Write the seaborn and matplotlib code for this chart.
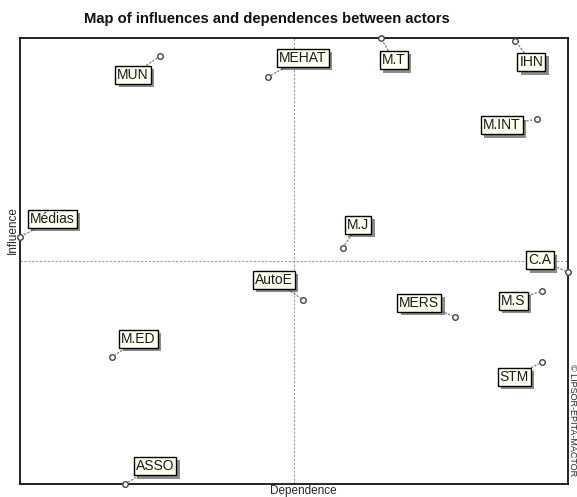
import pandas as pd
import seaborn as sns
import matplotlib.pyplot as plt
import matplotlib.patheffects as pe

# actors and their position on the map (dependence = x, influence = y, 0-100 scale)
actors = ['MUN', 'MEHAT', 'M.T', 'IHN', 'M.INT', 'Médias', 'M.J', 'C.A',
          'AutoE', 'MERS', 'M.S', 'M.ED', 'STM', 'ASSO']
dependence = [25.5, 45.2, 65.8, 90.4, 94.3, 0.0, 58.9, 100.0,
              51.6, 79.4, 95.3, 16.8, 95.3, 19.1]
influence = [96.0, 91.3, 100.0, 99.3, 81.8, 55.4, 53.0, 47.5,
             41.3, 37.5, 43.3, 28.5, 27.4, 0.0]

# label placement (pixels from the point)
label_offsets = [(-27, -19), (35, 19), (13, -22), (16, -21), (-35, -6), (32, 18),
                 (15, 23), (-28, 12), (-29, 20), (-36, 14), (-29, -10), (26, 18),
                 (-28, -15), (30, 18)]

df = pd.DataFrame({'actor': actors, 'dependence': dependence, 'influence': influence})

sns.set_style('white')
plt.rcParams['font.family'] = ['Liberation Sans', 'DejaVu Sans']

fig = plt.figure(figsize=(5.77, 4.97), dpi=100)
ax = fig.add_axes([0.0355, 0.0262, 0.9489, 0.8974])

ax.axvline(50, color='#9a9a9a', ls=(0, (2, 1.5)), lw=0.8, zorder=1)
ax.axhline(50, color='#9a9a9a', ls=(0, (2, 1.5)), lw=0.8, zorder=1)

sns.scatterplot(data=df, x='dependence', y='influence', ax=ax, s=16,
                facecolor='white', edgecolor='#444444', linewidth=1.0,
                clip_on=False, zorder=4)

for name, x, y, off in zip(actors, dependence, influence, label_offsets):
    t = ax.annotate(name, xy=(x, y), xytext=off, textcoords='offset pixels',
                    ha='center', va='center', fontsize=10, color='#1a1a1a',
                    bbox=dict(boxstyle='square,pad=0.15', fc='#fffff0', ec='black', lw=1.0),
                    arrowprops=dict(arrowstyle='-', ls=':', color='#888888', lw=1.0,
                                    shrinkA=0, shrinkB=2),
                    zorder=5, annotation_clip=False)
    t.get_bbox_patch().set_path_effects([
        pe.withSimplePatchShadow(offset=(2.5, -2.5), shadow_rgbFace='black', alpha=0.45)])

ax.set_xlim(0, 100)
ax.set_ylim(0, 100)
ax.set_xticks([])
ax.set_yticks([])
ax.set_xlabel('')
ax.set_ylabel('')
for sp in ax.spines.values():
    sp.set_color('black')
    sp.set_linewidth(1.2)

fig.text(266.7 / 577, 1 - 19 / 497, 'Map of influences and dependences between actors',
         ha='center', va='center', fontsize=10.6, fontweight='bold', color='#111111')
fig.text(303 / 577, 1 - 491 / 497, 'Dependence', ha='center', va='center', fontsize=8.5)
fig.text(12.5 / 577, 1 - 230 / 497, 'Influence', ha='center', va='center',
         rotation=90, fontsize=8.5)
fig.text(572 / 577, 1 - 364 / 497, '© LIPSOR-EPITA-MACTOR', ha='center', va='top',
         rotation=270, fontsize=6.5)

fig.savefig('out.png', dpi=100)
